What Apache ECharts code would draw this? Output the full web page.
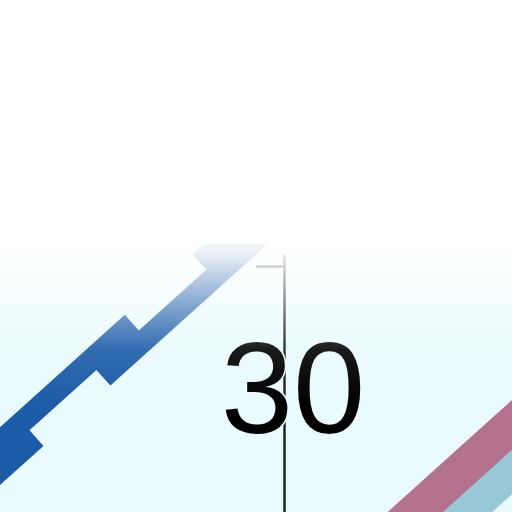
<!DOCTYPE html>
<html>
<head>
<meta charset="utf-8">
<script src="https://cdn.jsdelivr.net/npm/echarts@6.0.0/dist/echarts.min.js"></script>
<style>
  html, body { margin: 0; padding: 0; background: #e9fbfd; }
  #chart { width: 512px; height: 512px; }
</style>
</head>
<body>
<div id="chart"></div>
<script>
// segments of the zoomed-in lines, [x, y] in axis units
var blueLowA = [[-4.89, 2.55], [2.26, 12.83]];
var blueUpA = [[-1.31, 10.51], [8.26, 24.3]];
var blueLowB = [[6.44, 18.86], [18.33, 35.98]];
var blueUpB = [[12.48, 30.38], [17.45, 37.54]];
var pinkLine = [[23.82, 2.32], [34.96, 18.37]];
var cyanLine = [[25.22, -0.17], [36.36, 15.88]];

// y axis tick labels
var yTicks = [30];

var myChart = echarts.init(document.getElementById('chart'));

function seg(data, color, width) {
    return {
        type: 'line',
        data: data,
        symbol: 'none',
        lineStyle: { color: color, width: width, cap: 'butt' },
        z: 2
    };
}

var option = {
    animation: false,
    backgroundColor: '#e9fbfd',
    grid: {
        left: 0,
        right: 0,
        top: 255,
        bottom: 0,
        containLabel: false,
        outerBoundsMode: 'none'
    },
    xAxis: {
        type: 'value',
        min: 0,
        max: 32,
        show: false
    },
    yAxis: {
        type: 'value',
        min: 5.4,
        max: 31.1,
        offset: -284,
        splitLine: { show: false },
        axisLine: {
            show: true,
            onZero: false,
            lineStyle: { color: '#222', width: 2.5 }
        },
        axisTick: {
            show: true,
            length: 28,
            customValues: yTicks,
            lineStyle: { color: '#222', width: 2.5 }
        },
        axisLabel: {
            customValues: yTicks,
            align: 'center',
            verticalAlign: 'top',
            lineHeight: 262,
            margin: -9,
            fontSize: 130,
            fontFamily: 'Liberation Sans',
            color: '#000',
            textBorderColor: '#e9fbfd',
            textBorderWidth: 3
        }
    },
    series: [
        seg(blueLowA, '#1b5ba8', 22),
        seg(blueUpA, '#1b5ba8', 22),
        seg(blueLowB, '#1b5ba8', 22),
        seg(blueUpB, '#1b5ba8', 22),
        seg(cyanLine, '#98c8d5', 36),
        seg(pinkLine, '#b4728f', 37)
    ],
    graphic: [{
        type: 'rect',
        silent: true,
        z: 100,
        shape: { x: 0, y: 0, width: 512, height: 420 },
        style: {
            fill: {
                type: 'linear', x: 0, y: 0, x2: 0, y2: 1,
                colorStops: [
                    { offset: 0, color: 'rgba(255,255,255,1)' },
                    { offset: 0.55, color: 'rgba(255,255,255,1)' },
                    { offset: 0.607, color: 'rgba(255,255,255,0.9)' },
                    { offset: 0.633, color: 'rgba(255,255,255,0.8)' },
                    { offset: 0.714, color: 'rgba(255,255,255,0.5)' },
                    { offset: 0.833, color: 'rgba(255,255,255,0.1)' },
                    { offset: 0.952, color: 'rgba(255,255,255,0.01)' },
                    { offset: 1, color: 'rgba(255,255,255,0)' }
                ]
            }
        }
    }]
};

myChart.setOption(option);
</script>
</body>
</html>
